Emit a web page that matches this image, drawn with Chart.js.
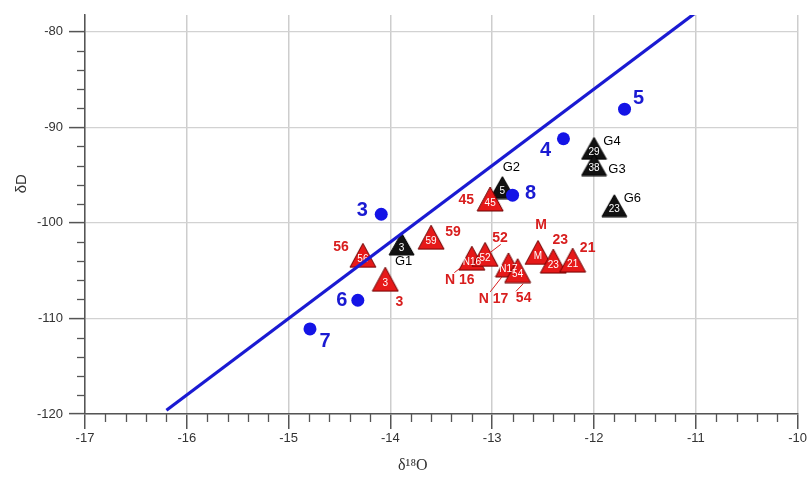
<!DOCTYPE html>
<html>
<head>
<meta charset="utf-8">
<script src="https://cdn.jsdelivr.net/npm/chart.js@4.4.1/dist/chart.umd.min.js"></script>
<style>
  html, body { margin: 0; padding: 0; background: #fff; overflow: hidden; }
  #wrap { width: 809px; height: 477px; }
</style>
</head>
<body>
<div id="wrap"><canvas id="c" width="809" height="477"></canvas></div>
<script>
// Global meteoric water line (end points)
const lineO = [-16.2, -11.0];
const lineD = [-119.6, -78.0];

// Rain samples
const rainNames = ['3', '4', '5', '6', '7', '8'];
const rainO = [-14.09, -12.30, -11.70, -14.32, -14.79, -12.80];
const rainD = [-99.1, -91.2, -88.1, -108.1, -111.1, -97.1];

// Spring samples (id written inside the marker, name written beside it)
const springIds   = ['45', '56', '3', '59', 'N16', '52', 'N17', '54', 'M', '23', '21'];
const springNames = ['45', '56', '3', '59', 'N 16', '52', 'N 17', '54', 'M', '23', '21'];
const springO = [-13.02, -14.27, -14.05, -13.60, -13.20, -13.07, -12.84, -12.75, -12.55, -12.40, -12.21];
const springD = [-97.5, -103.4, -105.9, -101.5, -103.7, -103.3, -104.4, -105.0, -103.1, -104.0, -103.9];

// Groundwater wells
const wellIds   = ['3', '5', '29', '38', '23'];
const wellNames = ['G1', 'G2', 'G4', 'G3', 'G6'];
const wellO = [-13.89, -12.90, -12.00, -12.00, -11.80];
const wellD = [-102.2, -96.3, -92.2, -93.9, -98.2];

// Labelled axis ticks
const xTicks = [-17, -16, -15, -14, -13, -12, -11, -10];
const yTicks = [-120, -110, -100, -90, -80];

const FONT = "'Liberation Sans', Arial, sans-serif";
const isMajor = (list, v) => list.some(t => Math.abs(t - v) < 1e-6);
const toPoints = (xs, ys) => xs.map((x, i) => ({ x, y: ys[i] }));

// Upright triangle marker drawn once on a small canvas
function triangleMarker(w, h, fill, stroke) {
  const c = document.createElement('canvas');
  c.width = w + 2;
  c.height = h + 2;
  const g = c.getContext('2d');
  g.beginPath();
  g.moveTo((w + 2) / 2, 1);
  g.lineTo(w + 1, h + 1);
  g.lineTo(1, h + 1);
  g.closePath();
  g.fillStyle = fill;
  g.fill();
  g.lineWidth = 1;
  g.strokeStyle = stroke;
  g.stroke();
  return c;
}
const redTriangle = triangleMarker(26, 24, '#e61919', '#6a0000');
const blackTriangle = triangleMarker(25, 22, '#111111', '#000000');

// Text offsets (pixels) of the names written beside each marker
const rainOffsets   = [[-19, -4], [-18, 12], [14, -11], [-16, 0], [15, 13], [18, -2]];
const springOffsets = [[-24, 1], [-22, -8], [14, 23], [22, -5], [-12, 22], [15, -16],
                       [-15, 34], [6, 27], [3, -27], [7, -21], [15, -12]];
const springLeaders = [null, null, null, null, [-17.5, 14.4, -11.8, 10], [4.7, -1.6, 15.7, -10],
                       [-18.3, 27, -6.6, 12], [-1.7, 20.7, 5.6, 13], null, null, null];
const wellOffsets   = [[2, 18], [9, -20], [18, -6.5], [23, 4.6], [18, -7.5]];

// Draws marker ids, side names and leader lines right after each dataset
const pointText = {
  id: 'pointText',
  afterDatasetDraw(chart, args) {
    const ds = chart.data.datasets[args.index];
    if (!ds.names) return;
    const ctx = chart.ctx;
    ctx.save();
    ctx.textAlign = 'center';
    ctx.textBaseline = 'middle';
    args.meta.data.forEach((el, i) => {
      const { x, y } = el.getProps(['x', 'y'], true);
      if (ds.ids) {
        ctx.font = '10px ' + FONT;
        ctx.fillStyle = '#ffffff';
        ctx.fillText(ds.ids[i], x, y + 4);
      }
      const lead = ds.leaders && ds.leaders[i];
      if (lead) {
        ctx.strokeStyle = ds.nameColor;
        ctx.lineWidth = 1;
        ctx.beginPath();
        ctx.moveTo(x + lead[0], y + lead[1]);
        ctx.lineTo(x + lead[2], y + lead[3]);
        ctx.stroke();
      }
      const off = ds.offsets[i];
      ctx.font = ds.nameFont;
      ctx.fillStyle = ds.nameColor;
      ctx.fillText(ds.names[i], x + off[0], y + off[1]);
    });
    ctx.restore();
  }
};

// Short unlabelled ticks between the labelled ones, plus both axis titles
const axisExtras = {
  id: 'axisExtras',
  afterDraw(chart) {
    const { ctx, scales: { x, y } } = chart;
    ctx.save();
    ctx.strokeStyle = '#555';
    ctx.lineWidth = 1.3;
    x.ticks.forEach(t => {
      if (isMajor(xTicks, t.value)) return;
      const px = Math.round(x.getPixelForValue(t.value)) + 0.5;
      ctx.beginPath();
      ctx.moveTo(px, x.top);
      ctx.lineTo(px, x.top + 8);
      ctx.stroke();
    });
    y.ticks.forEach(t => {
      if (isMajor(yTicks, t.value)) return;
      const py = Math.round(y.getPixelForValue(t.value)) + 0.5;
      ctx.beginPath();
      ctx.moveTo(y.right, py);
      ctx.lineTo(y.right - 8, py);
      ctx.stroke();
    });
    ctx.fillStyle = '#333';
    ctx.textAlign = 'center';
    ctx.textBaseline = 'middle';
    ctx.font = "16px 'Liberation Serif', 'Times New Roman', serif";
    ctx.fillText('δ¹⁸O', x.getPixelForValue(-13.78), x.bottom - 11);
    ctx.translate(y.left + 22, y.getPixelForValue(-95.9));
    ctx.rotate(-Math.PI / 2);
    ctx.font = '15px ' + FONT;
    ctx.fillText('δD', 0, 0);
    ctx.restore();
  }
};

new Chart(document.getElementById('c'), {
  type: 'scatter',
  data: {
    datasets: [
      {
        type: 'line',
        data: toPoints(lineO, lineD),
        borderColor: '#1a1ad2',
        borderWidth: 3.2,
        pointRadius: 0,
        fill: false,
        order: 0
      },
      {
        data: toPoints(rainO, rainD),
        pointStyle: 'circle',
        pointRadius: 6.5,
        backgroundColor: '#1414e6',
        borderColor: '#1414e6',
        borderWidth: 0,
        names: rainNames,
        offsets: rainOffsets,
        nameFont: 'bold 20px ' + FONT,
        nameColor: '#1a1ad2',
        order: 1
      },
      {
        data: toPoints(springO, springD),
        pointStyle: redTriangle,
        ids: springIds,
        names: springNames,
        offsets: springOffsets,
        leaders: springLeaders,
        nameFont: 'bold 14px ' + FONT,
        nameColor: '#d81e1e',
        order: 2
      },
      {
        data: toPoints(wellO, wellD),
        pointStyle: blackTriangle,
        ids: wellIds,
        names: wellNames,
        offsets: wellOffsets,
        nameFont: '13px ' + FONT,
        nameColor: '#000000',
        order: 3
      }
    ]
  },
  options: {
    responsive: false,
    animation: false,
    devicePixelRatio: 1,
    layout: { padding: { left: 0, right: 11, top: 15, bottom: 0 } },
    plugins: { legend: { display: false }, tooltip: { enabled: false } },
    scales: {
      x: {
        type: 'linear',
        min: -17,
        max: -10,
        afterFit: s => { s.height = 63; },
        ticks: {
          stepSize: 0.2,
          autoSkip: false,
          maxRotation: 0,
          padding: 2,
          color: '#333',
          font: { family: FONT, size: 13 },
          callback: v => isMajor(xTicks, v) ? String(Math.round(v)) : ''
        },
        grid: {
          tickLength: 15,
          lineWidth: 1.5,
          color: c => isMajor(xTicks, c.tick.value) ? '#cdcdcd' : 'rgba(0,0,0,0)',
          tickColor: c => isMajor(xTicks, c.tick.value) ? '#555' : 'rgba(0,0,0,0)',
          tickWidth: 1.5
        },
        border: { display: true, color: '#555', width: 1.5 },
        title: { display: false }
      },
      y: {
        type: 'linear',
        min: -120,
        max: -78.25,
        afterFit: s => { s.width = 85; },
        ticks: {
          stepSize: 2,
          includeBounds: false,
          autoSkip: false,
          padding: 6,
          color: '#333',
          font: { family: FONT, size: 13 },
          callback: v => isMajor(yTicks, v) ? String(Math.round(v)) : ''
        },
        grid: {
          tickLength: 16,
          lineWidth: 1.2,
          color: c => isMajor(yTicks, c.tick.value) ? '#d2d2d2' : 'rgba(0,0,0,0)',
          tickColor: c => isMajor(yTicks, c.tick.value) ? '#555' : 'rgba(0,0,0,0)',
          tickWidth: 1.5
        },
        border: { display: true, color: '#555', width: 1.5 },
        title: { display: false }
      }
    }
  },
  plugins: [pointText, axisExtras]
});
</script>
</body>
</html>
